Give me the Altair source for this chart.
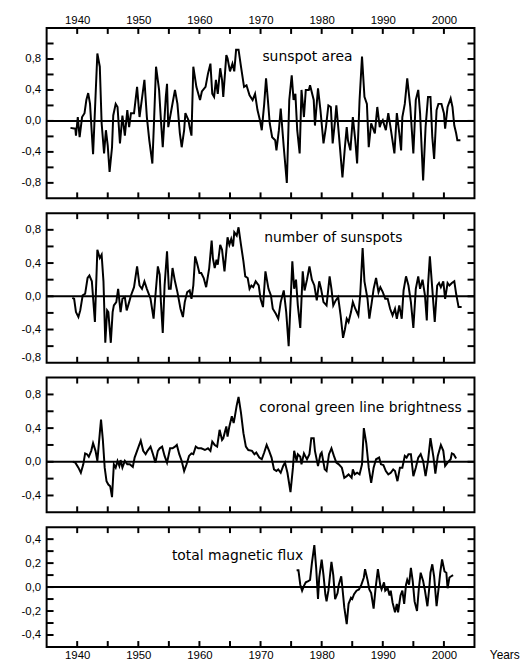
import altair as alt
import pandas as pd

# ---------------- data (year, relative value) ----------------
sunspot_area = [
    (1938.9, -0.09), (1939.7, -0.10), (1939.8, -0.19), (1940.1, 0.05), (1940.4, -0.21), (1940.8, 0.05),
    (1941.2, 0.10), (1941.5, 0.27), (1941.8, 0.36), (1942.1, 0.22), (1942.6, -0.43), (1943.3, 0.87),
    (1943.7, 0.70), (1944.0, -0.03), (1944.4, -0.42), (1944.7, -0.12), (1945.0, -0.32), (1945.3, -0.66),
    (1945.7, -0.34), (1945.9, 0.07), (1946.3, 0.22), (1946.6, 0.18), (1947.0, -0.29), (1947.4, 0.07),
    (1947.8, -0.19), (1948.2, 0.14), (1948.5, -0.08), (1948.8, 0.10), (1949.3, 0.10), (1949.8, 0.44),
    (1950.2, 0.05), (1951.0, 0.53), (1951.4, 0.05), (1951.8, -0.25), (1952.3, -0.55), (1952.6, 0.05),
    (1952.9, 0.70), (1953.4, 0.40), (1953.7, 0.01), (1954.0, -0.34), (1954.2, -0.08), (1954.5, 0.31),
    (1954.7, 0.48), (1954.9, -0.08), (1955.2, 0.05), (1955.7, 0.27), (1956.0, 0.40), (1956.4, 0.22),
    (1956.8, -0.16), (1957.1, -0.34), (1957.5, -0.12), (1957.7, 0.10), (1958.2, 0.01), (1958.4, -0.08),
    (1958.7, -0.19), (1959.0, 0.70), (1959.5, 0.44), (1960.1, 0.27), (1960.4, 0.38), (1961.0, 0.44),
    (1961.4, 0.61), (1961.8, 0.74), (1962.1, 0.35), (1962.4, 0.31), (1962.7, 0.53), (1963.0, 0.35),
    (1963.4, 0.68), (1963.7, 0.53), (1963.9, 0.31), (1964.4, 0.85), (1964.6, 0.81), (1965.0, 0.64),
    (1965.4, 0.74), (1965.7, 0.64), (1966.0, 0.92), (1966.4, 0.92), (1966.8, 0.70), (1967.3, 0.44),
    (1967.7, 0.46), (1968.2, 0.33), (1968.7, 0.27), (1969.1, 0.35), (1969.5, 0.14), (1969.9, 0.01),
    (1970.2, -0.12), (1970.6, 0.22), (1970.9, 0.55), (1971.2, 0.27), (1971.5, -0.03), (1971.9, -0.21),
    (1972.4, -0.25), (1972.6, -0.38), (1973.0, -0.12), (1973.3, 0.16), (1973.8, -0.34), (1974.3, -0.80),
    (1974.7, 0.27), (1975.1, 0.59), (1975.4, 0.27), (1975.7, 0.35), (1976.0, -0.12), (1976.4, -0.42),
    (1976.7, 0.40), (1977.1, 0.05), (1977.4, 0.40), (1977.9, 0.40), (1978.1, 0.46), (1978.7, 0.27),
    (1978.9, -0.06), (1979.4, 0.42), (1979.8, 0.14), (1980.3, -0.29), (1980.7, -0.08), (1981.1, 0.20),
    (1981.5, 0.18), (1981.8, -0.29), (1982.2, 0.01), (1982.4, 0.20), (1982.8, -0.16), (1983.4, -0.73),
    (1983.8, -0.34), (1984.1, -0.08), (1984.3, -0.25), (1984.7, -0.38), (1985.1, 0.05), (1985.5, -0.25),
    (1985.8, -0.55), (1986.2, 0.27), (1986.6, 0.83), (1987.0, 0.31), (1987.4, 0.22), (1987.7, -0.34),
    (1988.1, -0.03), (1988.7, -0.16), (1989.1, 0.18), (1989.5, -0.08), (1989.7, -0.03), (1990.0, 0.01),
    (1990.5, -0.12), (1990.9, 0.10), (1991.3, -0.10), (1991.9, -0.42), (1992.3, 0.10), (1992.7, -0.16),
    (1993.0, -0.38), (1993.2, 0.05), (1993.6, 0.22), (1994.0, 0.55), (1994.5, 0.18), (1995.0, -0.42),
    (1995.4, 0.27), (1995.8, 0.40), (1996.1, 0.10), (1996.6, -0.77), (1997.0, -0.08), (1997.4, 0.31),
    (1997.8, 0.31), (1998.1, -0.21), (1998.4, -0.49), (1998.8, 0.14), (1999.1, 0.22), (1999.6, 0.22),
    (2000.0, 0.10), (2000.2, -0.10), (2000.6, 0.18), (2001.1, 0.29), (2001.4, 0.18), (2001.7, -0.06),
    (2002.0, -0.16), (2002.2, -0.25), (2002.7, -0.25),
]

number_of_sunspots = [
    (1939.2, -0.02), (1939.5, -0.03), (1939.8, -0.19), (1940.2, -0.25), (1940.5, -0.17), (1940.9, 0.01),
    (1941.3, 0.03), (1941.7, 0.22), (1942.0, 0.25), (1942.4, 0.18), (1942.9, -0.31), (1943.3, 0.56),
    (1943.7, 0.46), (1944.0, 0.50), (1944.3, 0.18), (1944.6, -0.56), (1944.9, -0.17), (1945.1, -0.19),
    (1945.5, -0.56), (1945.8, -0.19), (1946.0, -0.11), (1946.4, -0.07), (1946.7, 0.09), (1947.1, -0.19),
    (1947.4, -0.03), (1947.8, -0.01), (1948.1, -0.17), (1948.5, -0.07), (1948.8, 0.01), (1949.3, 0.11),
    (1949.8, 0.36), (1950.2, 0.13), (1950.6, 0.09), (1951.0, 0.18), (1951.4, 0.09), (1952.0, -0.03),
    (1952.5, -0.27), (1952.8, 0.01), (1953.2, 0.36), (1953.5, 0.26), (1953.7, -0.07), (1954.0, -0.44),
    (1954.3, 0.13), (1954.7, 0.54), (1955.0, 0.09), (1955.3, 0.09), (1955.6, 0.34), (1956.0, 0.18),
    (1956.4, 0.05), (1956.9, -0.15), (1957.3, -0.25), (1957.6, -0.07), (1958.0, 0.05), (1958.4, 0.07),
    (1958.7, -0.03), (1959.0, 0.13), (1959.3, 0.48), (1959.6, 0.40), (1960.0, 0.28), (1960.3, 0.28),
    (1960.7, 0.22), (1961.1, 0.11), (1961.6, 0.34), (1962.0, 0.67), (1962.2, 0.46), (1962.5, 0.34),
    (1962.8, 0.44), (1963.0, 0.38), (1963.4, 0.62), (1963.7, 0.56), (1964.1, 0.30), (1964.4, 0.54),
    (1964.6, 0.71), (1964.9, 0.62), (1965.2, 0.69), (1965.5, 0.60), (1965.7, 0.77), (1966.1, 0.73),
    (1966.4, 0.83), (1966.8, 0.62), (1967.2, 0.42), (1967.5, 0.24), (1967.9, 0.22), (1968.2, 0.09),
    (1968.5, 0.13), (1968.8, 0.11), (1969.2, 0.18), (1969.7, 0.13), (1970.0, -0.03), (1970.4, -0.13),
    (1970.8, 0.30), (1971.3, 0.09), (1971.7, 0.01), (1972.0, -0.15), (1972.5, -0.21), (1972.9, -0.27),
    (1973.3, -0.07), (1973.8, 0.07), (1974.2, -0.19), (1974.6, -0.60), (1975.2, 0.42), (1975.5, 0.09),
    (1975.8, 0.20), (1976.1, -0.11), (1976.5, -0.38), (1976.9, 0.30), (1977.2, 0.07), (1977.6, 0.20),
    (1978.0, 0.36), (1978.4, 0.20), (1978.8, 0.13), (1979.2, -0.05), (1979.6, 0.18), (1979.9, 0.09),
    (1980.3, -0.07), (1980.8, -0.11), (1981.3, 0.24), (1981.6, 0.09), (1981.9, -0.11), (1982.3, -0.05),
    (1982.7, -0.01), (1983.1, -0.23), (1983.5, -0.50), (1983.8, -0.40), (1984.1, -0.27), (1984.4, -0.31),
    (1984.8, -0.19), (1985.1, -0.07), (1985.5, -0.15), (1986.0, -0.23), (1986.3, 0.01), (1986.7, 0.58),
    (1987.0, 0.18), (1987.5, -0.03), (1987.8, -0.27), (1988.2, -0.07), (1988.5, 0.09), (1988.9, 0.22),
    (1989.3, 0.05), (1989.6, 0.11), (1990.0, 0.05), (1990.4, -0.03), (1990.8, -0.03), (1991.2, -0.15),
    (1991.6, -0.23), (1992.0, -0.15), (1992.3, -0.27), (1992.7, -0.11), (1993.1, -0.27), (1993.4, 0.07),
    (1993.8, 0.24), (1994.2, 0.13), (1994.6, -0.07), (1995.0, -0.38), (1995.4, 0.09), (1995.8, 0.24),
    (1996.1, 0.09), (1996.5, 0.20), (1996.9, 0.01), (1997.2, -0.29), (1997.4, 0.13), (1997.7, 0.48),
    (1998.1, 0.09), (1998.5, -0.31), (1998.9, 0.13), (1999.2, 0.16), (1999.5, 0.11), (1999.9, 0.18),
    (2000.2, -0.03), (2000.6, 0.16), (2000.9, 0.13), (2001.3, 0.16), (2001.7, 0.18), (2002.0, 0.03),
    (2002.4, -0.13), (2002.9, -0.13),
]

coronal_green_line = [
    (1939.3, 0.00), (1939.7, -0.01), (1940.2, -0.07), (1940.6, -0.13), (1941.0, -0.03), (1941.3, 0.10),
    (1941.6, 0.09), (1941.9, 0.06), (1942.3, 0.13), (1942.6, 0.22), (1943.0, 0.13), (1943.3, 0.01),
    (1943.7, 0.34), (1943.9, 0.50), (1944.2, 0.26), (1944.5, -0.07), (1944.8, -0.23), (1945.1, -0.27),
    (1945.4, -0.29), (1945.7, -0.42), (1946.0, -0.03), (1946.3, -0.07), (1946.6, 0.01), (1946.9, -0.05),
    (1947.1, 0.02), (1947.4, -0.07), (1947.8, 0.01), (1948.2, -0.03), (1948.6, -0.03), (1949.1, -0.06),
    (1949.4, 0.05), (1949.8, 0.13), (1950.4, 0.25), (1950.8, 0.13), (1951.2, 0.09), (1951.5, 0.13),
    (1952.0, 0.18), (1952.4, 0.09), (1952.8, -0.01), (1953.2, 0.13), (1953.5, 0.16), (1953.9, 0.18),
    (1954.3, 0.07), (1954.7, -0.01), (1955.2, 0.16), (1955.6, 0.16), (1956.0, 0.18), (1956.3, 0.20),
    (1956.7, 0.09), (1957.1, 0.01), (1957.5, -0.11), (1957.9, -0.03), (1958.3, 0.07), (1958.7, 0.10),
    (1959.0, 0.09), (1959.4, 0.18), (1959.8, 0.16), (1960.3, 0.16), (1960.9, 0.14), (1961.4, 0.16),
    (1961.8, 0.13), (1962.1, 0.24), (1962.5, 0.20), (1962.9, 0.18), (1963.3, 0.38), (1963.7, 0.26),
    (1963.9, 0.28), (1964.4, 0.42), (1964.6, 0.30), (1964.9, 0.42), (1965.3, 0.54), (1965.6, 0.46),
    (1965.8, 0.54), (1966.1, 0.67), (1966.4, 0.77), (1966.8, 0.58), (1967.2, 0.34), (1967.6, 0.18),
    (1968.0, 0.14), (1968.6, 0.13), (1969.0, 0.09), (1969.3, 0.11), (1969.8, 0.05), (1970.2, 0.03),
    (1970.6, 0.11), (1971.0, 0.20), (1971.4, 0.13), (1971.8, 0.05), (1972.2, -0.09), (1972.6, -0.11),
    (1972.9, -0.09), (1973.3, -0.13), (1973.7, -0.05), (1974.0, -0.01), (1974.4, -0.13), (1974.9, -0.36),
    (1975.3, -0.07), (1975.5, 0.13), (1975.9, 0.01), (1976.1, 0.09), (1976.5, 0.06), (1976.7, -0.03),
    (1977.1, 0.10), (1977.3, 0.07), (1977.6, 0.03), (1978.0, 0.09), (1978.3, 0.28), (1978.7, 0.28),
    (1978.9, 0.13), (1979.4, -0.05), (1979.8, 0.09), (1980.0, 0.11), (1980.5, -0.09), (1980.8, -0.11),
    (1981.2, 0.09), (1981.6, 0.16), (1982.0, 0.07), (1982.4, -0.01), (1982.8, -0.03), (1983.3, -0.07),
    (1983.7, -0.19), (1984.1, -0.17), (1984.4, -0.15), (1984.9, -0.19), (1985.1, -0.09), (1985.4, -0.15),
    (1985.8, -0.13), (1986.2, -0.15), (1986.6, -0.03), (1986.9, 0.40), (1987.3, 0.22), (1987.7, -0.07),
    (1988.1, -0.25), (1988.5, -0.07), (1988.9, 0.03), (1989.4, 0.05), (1989.7, -0.03), (1990.1, -0.04),
    (1990.5, -0.11), (1990.9, -0.15), (1991.3, -0.13), (1991.7, -0.09), (1992.0, -0.11), (1992.4, -0.23),
    (1992.8, -0.07), (1993.2, -0.07), (1993.6, 0.07), (1993.9, 0.05), (1994.2, 0.09), (1994.6, 0.09),
    (1995.0, -0.17), (1995.4, -0.07), (1995.8, 0.05), (1996.2, 0.09), (1996.6, 0.01), (1997.0, -0.17),
    (1997.4, 0.01), (1997.8, 0.28), (1998.3, 0.05), (1998.6, -0.14), (1999.0, 0.07), (1999.5, 0.20),
    (1999.9, 0.13), (2000.2, -0.05), (2000.6, -0.01), (2001.1, 0.03), (2001.3, 0.10), (2001.6, 0.09),
    (2002.0, 0.04),
]

total_magnetic_flux = [
    (1975.9, 0.14), (1976.2, 0.14), (1976.5, 0.02), (1976.8, -0.03), (1977.1, 0.01), (1977.4, 0.04),
    (1977.8, 0.05), (1978.1, 0.06), (1978.4, 0.20), (1978.8, 0.35), (1979.1, 0.16), (1979.4, -0.10),
    (1979.6, 0.08), (1980.0, 0.23), (1980.3, 0.10), (1980.6, -0.06), (1980.8, -0.12), (1981.1, -0.03),
    (1981.6, 0.21), (1981.9, 0.10), (1982.2, -0.10), (1982.6, -0.05), (1982.8, 0.02), (1983.2, 0.09),
    (1983.4, -0.01), (1983.7, -0.17), (1984.1, -0.31), (1984.4, -0.14), (1984.8, -0.09), (1985.0, -0.10),
    (1985.3, -0.06), (1985.7, -0.03), (1986.1, -0.02), (1986.5, 0.02), (1986.9, 0.08), (1987.1, 0.15),
    (1987.5, 0.06), (1987.8, -0.02), (1988.1, -0.05), (1988.5, -0.18), (1988.8, -0.02), (1989.2, 0.15),
    (1989.6, 0.01), (1989.8, -0.02), (1990.2, 0.04), (1990.4, -0.03), (1990.8, -0.01), (1991.1, -0.07),
    (1991.3, -0.03), (1991.6, -0.13), (1992.0, -0.21), (1992.3, -0.14), (1992.5, -0.21), (1992.9, -0.07),
    (1993.2, -0.03), (1993.5, -0.14), (1993.8, 0.02), (1994.0, 0.06), (1994.3, 0.02), (1994.6, 0.16),
    (1994.9, 0.05), (1995.2, -0.12), (1995.6, -0.20), (1995.9, -0.01), (1996.2, 0.12), (1996.6, 0.05),
    (1996.9, -0.03), (1997.3, -0.16), (1997.6, -0.01), (1997.8, 0.12), (1998.1, 0.19), (1998.4, 0.09),
    (1998.8, -0.16), (1999.2, 0.02), (1999.4, 0.12), (1999.7, 0.23), (2000.1, 0.13), (2000.4, 0.12),
    (2000.6, -0.01), (2000.9, 0.08), (2001.2, 0.09), (2001.5, 0.10),
]

panel_titles = ["sunspot area", "number of sunspots", "coronal green line brightness", "total magnetic flux"]
title_year = [1970.3, 1970.6, 1969.8, 1955.5]
title_value = [0.83, 0.70, 0.64, 0.26]

x_domain = [1935, 2005]
x_label_years = [1940, 1950, 1960, 1970, 1980, 1990, 2000]
x_tick_years = [1940, 1945, 1950, 1955, 1960, 1965, 1970, 1975, 1980, 1985, 1990, 1995, 2000]

y_domains = [[-1.0, 1.2], [-0.8, 1.0], [-0.6, 1.0], [-0.5, 0.5]]
y_labels = [[-0.8, -0.4, 0.0, 0.4, 0.8], [-0.8, -0.4, 0.0, 0.4, 0.8],
            [-0.4, 0.0, 0.4, 0.8], [-0.4, -0.2, 0.0, 0.2, 0.4]]
y_ticks = [[-0.8, -0.6, -0.4, -0.2, 0.0, 0.2, 0.4, 0.6, 0.8, 1.0],
           [-0.6, -0.4, -0.2, 0.0, 0.2, 0.4, 0.6, 0.8],
           [-0.4, -0.2, 0.0, 0.2, 0.4, 0.6, 0.8],
           [-0.4, -0.3, -0.2, -0.1, 0.0, 0.1, 0.2, 0.3, 0.4]]

series = [sunspot_area, number_of_sunspots, coronal_green_line, total_magnetic_flux]
heights = [172, 151, 136, 121]
W = 432
TICK = 7
LABEL_FONT = "Liberation Sans"
LABEL_SIZE = 11.5
INK = "black"
STROKE = 2.0

label_expr = "replace(replace(format(datum.value, '.1f'), '.', ','), '\u2212', '-')"


def panel(i):
    H = heights[i]
    xs = alt.Scale(domain=x_domain, nice=False, zero=False)
    ys = alt.Scale(domain=y_domains[i], nice=False, zero=False)
    if i == 0:
        xaxis = alt.Axis(orient="top", values=x_label_years, format="d", ticks=False, tickSize=0,
                         domain=False, grid=False, labelPadding=3, title=None, labelFlush=False)
    elif i == 3:
        xaxis = alt.Axis(orient="bottom", values=x_label_years, format="d", ticks=False, tickSize=0,
                         domain=False, grid=False, labelPadding=3, title="Years", titleX=447, titleY=3,
                         titleAlign="left", titleBaseline="top", titleFontWeight="normal",
                         titleFont=LABEL_FONT, titleFontSize=12, titleColor=INK, labelFlush=False)
    else:
        xaxis = alt.Axis(labels=False, ticks=False, domain=False, grid=False, title=None)
    yaxis = alt.Axis(values=y_labels[i], labelExpr=label_expr, ticks=False, tickSize=0, domain=False,
                     grid=False, title=None, labelPadding=6, minExtent=26, maxExtent=26,
                     labelFlush=True, labelOverlap=False)

    df = pd.DataFrame(series[i], columns=["year", "value"])
    line = alt.Chart(df).mark_line(color=INK, strokeWidth=STROKE).encode(
        x=alt.X("year:Q", scale=xs, axis=xaxis),
        y=alt.Y("value:Q", scale=ys, axis=yaxis),
    )
    zero = alt.Chart(pd.DataFrame({"z": [0.0]})).mark_rule(color=INK, strokeWidth=STROKE).encode(
        y=alt.Y("z:Q", scale=ys, axis=yaxis)
    )
    ydf = pd.DataFrame({"t": y_ticks[i]})
    yt_left = alt.Chart(ydf).mark_rule(color=INK, strokeWidth=STROKE).encode(
        y=alt.Y("t:Q", scale=ys, axis=yaxis), x=alt.value(0), x2=alt.value(TICK))
    yt_right = alt.Chart(ydf).mark_rule(color=INK, strokeWidth=STROKE).encode(
        y=alt.Y("t:Q", scale=ys, axis=yaxis), x=alt.value(W - TICK), x2=alt.value(W))
    xdf = pd.DataFrame({"t": x_tick_years})
    xt_top = alt.Chart(xdf).mark_rule(color=INK, strokeWidth=STROKE).encode(
        x=alt.X("t:Q", scale=xs, axis=xaxis), y=alt.value(0), y2=alt.value(6))
    xt_bot = alt.Chart(xdf).mark_rule(color=INK, strokeWidth=STROKE).encode(
        x=alt.X("t:Q", scale=xs, axis=xaxis), y=alt.value(H - 6), y2=alt.value(H))
    tdf = pd.DataFrame({"x": [title_year[i]], "y": [title_value[i]], "t": [panel_titles[i]]})
    txt = alt.Chart(tdf).mark_text(align="left", baseline="middle", font="DejaVu Sans",
                                   fontSize=14, color=INK).encode(
        x=alt.X("x:Q", scale=xs, axis=xaxis), y=alt.Y("y:Q", scale=ys, axis=yaxis), text="t:N")
    return alt.layer(line, zero, yt_left, yt_right, xt_top, xt_bot, txt).properties(width=W, height=H)


chart = alt.vconcat(*[panel(i) for i in range(4)], spacing=11).configure_view(
    stroke=INK, strokeWidth=2
).configure_axis(
    labelFont=LABEL_FONT, labelFontSize=LABEL_SIZE, labelColor=INK
).properties(
    padding={"top": 2, "left": 12, "right": 2, "bottom": 0}
)

chart.save("out.html", embed_options={"renderer": "svg", "actions": False})
